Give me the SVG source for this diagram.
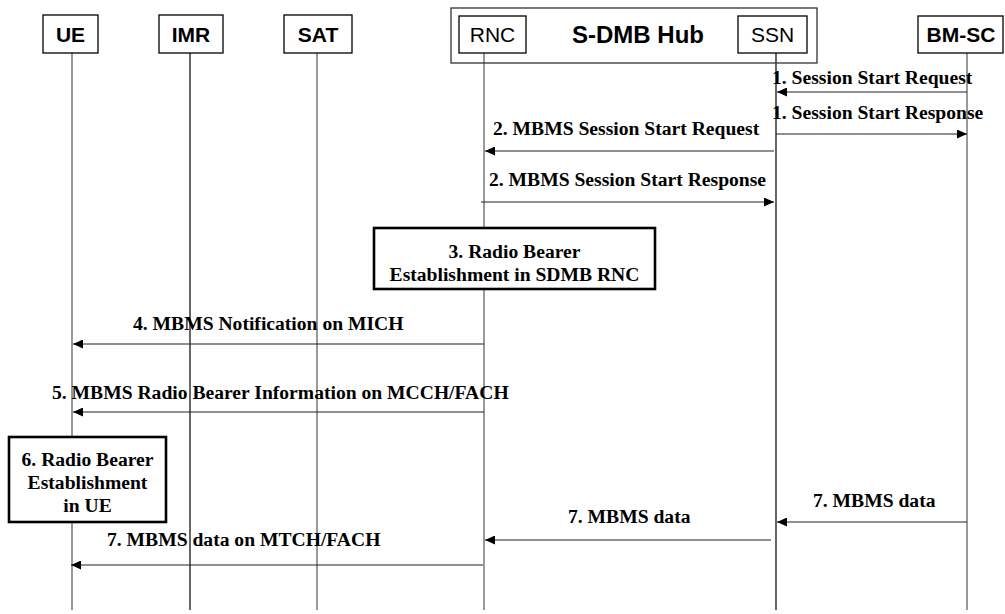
<svg xmlns="http://www.w3.org/2000/svg" width="1005" height="614" viewBox="0 0 1005 614">
<style>
.bg{fill:#fff}
.ent{fill:#fff;stroke:#000;stroke-width:1.3}
.hub{fill:none;stroke:#333;stroke-width:1.3}
.proc{fill:#fff;stroke:#000;stroke-width:2.6}
.life{stroke:#555;stroke-width:1.2}
.lifek{stroke:#000;stroke-width:1.2}
.msg{stroke:#222;stroke-width:1.2;fill:none}
.lb{font-family:"Liberation Sans",Arial,sans-serif;font-weight:bold;font-size:21px;text-anchor:middle}
.lr{font-family:"Liberation Sans",Arial,sans-serif;font-size:21px;text-anchor:middle}
.hubt{font-family:"Liberation Sans",Arial,sans-serif;font-weight:bold;font-size:24px;text-anchor:middle}
.t{font-family:"Liberation Serif","Times New Roman",serif;font-weight:bold;font-size:19.6px}
.tc{font-family:"Liberation Serif","Times New Roman",serif;font-weight:bold;font-size:19.6px;text-anchor:middle}
</style>
<defs>
<marker id="ah" markerUnits="userSpaceOnUse" markerWidth="11" markerHeight="9" refX="10" refY="4.5" orient="auto">
<path d="M0,0 L10,4.5 L0,9 z" fill="#000"/>
</marker>
</defs>
<rect class="bg" x="0" y="0" width="1005" height="614"/>
<g id="lifelines">
<line class="life" x1="72" y1="53" x2="72" y2="610"/>
<line class="lifek" x1="190" y1="53" x2="190" y2="610"/>
<line class="life" x1="317" y1="53" x2="317" y2="610"/>
<line class="life" x1="484" y1="53" x2="484" y2="610"/>
<line class="lifek" x1="776" y1="53" x2="776" y2="610"/>
<line class="life" x1="967" y1="53" x2="967" y2="610"/>
</g>
<g id="hub">
<rect class="hub" x="451" y="8" width="366" height="55"/>
<text class="hubt" x="638" y="43">S-DMB Hub</text>
</g>
<g id="ue"><rect class="ent" x="43" y="15" width="55" height="38"/><text class="lb" x="70.5" y="42">UE</text></g>
<g id="imr"><rect class="ent" x="159" y="15" width="64" height="38"/><text class="lb" x="191" y="42">IMR</text></g>
<g id="sat"><rect class="ent" x="284" y="15" width="68" height="38"/><text class="lb" x="318" y="42">SAT</text></g>
<g id="rnc"><rect class="ent" x="459" y="16" width="67" height="37"/><text class="lr" x="492.5" y="42">RNC</text></g>
<g id="ssn"><rect class="ent" x="738" y="16" width="69" height="37"/><text class="lr" x="772.5" y="42">SSN</text></g>
<g id="bmsc"><rect class="ent" x="918" y="16" width="85" height="37"/><text class="lb" x="961" y="42">BM-SC</text></g>
<g id="proc3">
<rect class="proc" x="374" y="228" width="281" height="61"/>
<text class="tc" x="514.5" y="258">3. Radio Bearer</text>
<text class="tc" x="514.5" y="281">Establishment in SDMB RNC</text>
</g>
<g id="proc6">
<rect class="proc" x="9" y="437" width="157" height="85"/>
<text class="tc" x="87.5" y="466">6. Radio Bearer</text>
<text class="tc" x="87.5" y="489">Establishment</text>
<text class="tc" x="87.5" y="512">in UE</text>
</g>
<g id="connectors">
<line class="msg" x1="967" y1="92" x2="777" y2="92" marker-end="url(#ah)"/>
<line class="msg" x1="776" y1="134" x2="967" y2="134" marker-end="url(#ah)"/>
<line class="msg" x1="774" y1="151" x2="485" y2="151" marker-end="url(#ah)"/>
<line class="msg" x1="481" y1="202" x2="774" y2="202" marker-end="url(#ah)"/>
<line class="msg" x1="484" y1="344" x2="73" y2="344" marker-end="url(#ah)"/>
<line class="msg" x1="484" y1="412" x2="73" y2="412" marker-end="url(#ah)"/>
<line class="msg" x1="967" y1="522" x2="777" y2="522" marker-end="url(#ah)"/>
<line class="msg" x1="771" y1="540" x2="485" y2="540" marker-end="url(#ah)"/>
<line class="msg" x1="483" y1="565" x2="71" y2="565" marker-end="url(#ah)"/>
</g>
<g id="labels">
<text class="t" x="772" y="84">1. Session Start Request</text>
<text class="t" x="772" y="119">1. Session Start Response</text>
<text class="t" x="493" y="135">2. MBMS Session Start Request</text>
<text class="t" x="489" y="186">2. MBMS Session Start Response</text>
<text class="t" x="133" y="330">4. MBMS Notification on MICH</text>
<text class="t" x="52" y="399">5. MBMS Radio Bearer Information on MCCH/FACH</text>
<text class="t" x="813" y="507">7. MBMS data</text>
<text class="t" x="568" y="523">7. MBMS data</text>
<text class="t" x="107" y="546">7. MBMS data on MTCH/FACH</text>
</g>
</svg>
